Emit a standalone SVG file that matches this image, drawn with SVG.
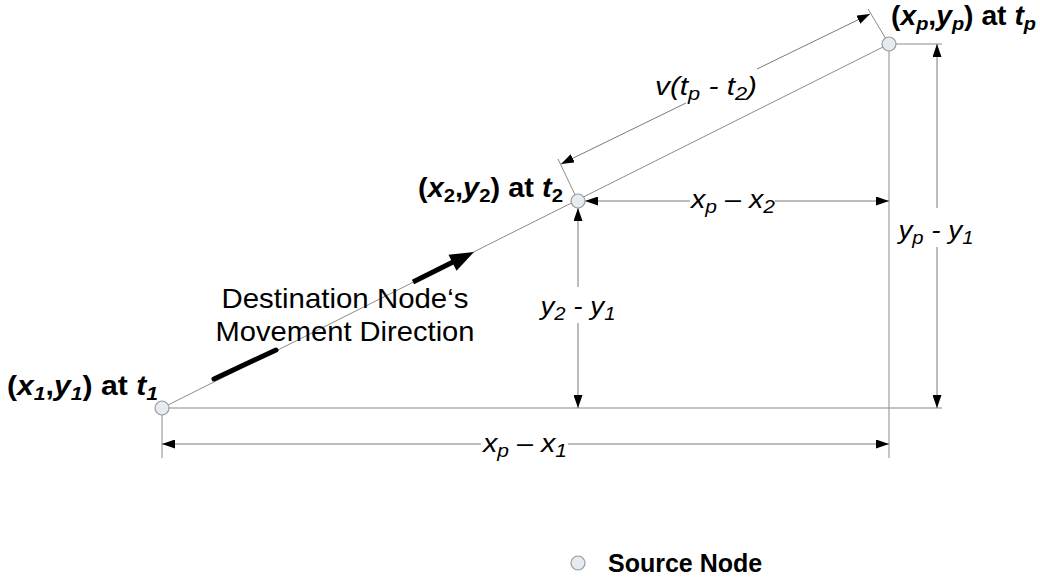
<svg xmlns="http://www.w3.org/2000/svg" width="1040" height="578" viewBox="0 0 1040 578">
<style>
.ln{stroke:#8c8c8c;stroke-width:1;fill:none}
.base{stroke:#c4c4c4;stroke-width:2;fill:none}
.dim{stroke:#7a7a7a;stroke-width:1;fill:none;marker-end:url(#ah)}
.node{fill:#e6ebf1;stroke:#9a9a9a;stroke-width:1.2}
.lb{font-family:"Liberation Sans",Arial,sans-serif;font-weight:bold;font-size:27px;fill:#000}
.dl{font-family:"Liberation Sans",Arial,sans-serif;font-style:italic;font-size:26px;fill:#000}
.tx{font-family:"Liberation Sans",Arial,sans-serif;font-size:28px;fill:#000}
.sn{font-family:"Liberation Sans",Arial,sans-serif;font-weight:bold;font-size:25px;fill:#000}
.it{font-style:italic}
.sb{font-size:19px}
</style>
<defs>
<marker id="ah" markerUnits="userSpaceOnUse" markerWidth="13" markerHeight="9" refX="13" refY="4.5" orient="auto">
<path d="M0,0 L13,4.5 L0,9 z" fill="#000"/>
</marker>
</defs>
<g id="connectors">
<line class="ln" x1="162" y1="408" x2="889" y2="44"/>
<line class="base" x1="162" y1="408" x2="942" y2="408"/>
<line class="ln" x1="889" y1="44" x2="942" y2="44"/>
<line class="ln" x1="889" y1="44" x2="889" y2="458"/>
<line class="ln" x1="162" y1="408" x2="162" y2="458"/>
<line class="ln" x1="578" y1="201" x2="558" y2="159"/>
<line class="ln" x1="889" y1="44" x2="868" y2="9"/>
<line class="dim" x1="686" y1="103" x2="561" y2="164"/>
<line class="dim" x1="757" y1="69" x2="870" y2="14"/>
<line class="dim" x1="690" y1="201" x2="585" y2="201"/>
<line class="dim" x1="775" y1="201" x2="889" y2="201"/>
<line class="dim" x1="578" y1="287" x2="578" y2="208"/>
<line class="dim" x1="578" y1="323" x2="578" y2="408"/>
<line class="dim" x1="937" y1="208" x2="937" y2="44"/>
<line class="dim" x1="937" y1="247" x2="937" y2="408"/>
<line class="dim" x1="481" y1="444" x2="162" y2="444"/>
<line class="dim" x1="568" y1="444" x2="889" y2="444"/>
</g>
<g id="movement-arrow">
<line x1="214" y1="379" x2="276" y2="350" stroke="#000" stroke-width="5" stroke-linecap="round"/>
<line x1="413" y1="282" x2="455" y2="261" stroke="#000" stroke-width="5"/>
<polygon points="474,252 456.5,270.8 448.5,254.7" fill="#000"/>
</g>
<g id="node-1"><circle class="node" cx="162" cy="408" r="7"/>
<text class="lb" x="158" y="395" text-anchor="end" textLength="151" lengthAdjust="spacingAndGlyphs">(<tspan class="it">x</tspan><tspan class="it sb" dy="5">1</tspan><tspan dy="-5">,</tspan><tspan class="it">y</tspan><tspan class="it sb" dy="5">1</tspan><tspan dy="-5">) at </tspan><tspan class="it">t</tspan><tspan class="it sb" dy="5">1</tspan></text></g>
<g id="node-2"><circle class="node" cx="578" cy="201" r="7"/>
<text class="lb" x="563" y="197" text-anchor="end" textLength="145" lengthAdjust="spacingAndGlyphs">(<tspan class="it">x</tspan><tspan class="sb" dy="5">2</tspan><tspan dy="-5">,</tspan><tspan class="it">y</tspan><tspan class="sb" dy="5">2</tspan><tspan dy="-5">) at </tspan><tspan class="it">t</tspan><tspan class="sb" dy="5">2</tspan></text></g>
<g id="node-p"><circle class="node" cx="889" cy="44" r="7"/>
<text class="lb" x="891" y="25" textLength="145" lengthAdjust="spacingAndGlyphs">(<tspan class="it">x</tspan><tspan class="it sb" dy="5">p</tspan><tspan dy="-5">,</tspan><tspan class="it">y</tspan><tspan class="it sb" dy="5">p</tspan><tspan dy="-5">) at </tspan><tspan class="it">t</tspan><tspan class="it sb" dy="5">p</tspan></text></g>
<g id="labels">
<text class="tx" x="345" y="308" text-anchor="middle" textLength="247" lengthAdjust="spacingAndGlyphs">Destination Node‘s</text>
<text class="tx" x="345" y="341" text-anchor="middle" textLength="259" lengthAdjust="spacingAndGlyphs">Movement Direction</text>
<text class="dl" x="706" y="95" text-anchor="middle" textLength="102" lengthAdjust="spacingAndGlyphs">v(t<tspan class="sb" dy="5">p</tspan><tspan dy="-5"> - t</tspan><tspan class="sb" dy="5">2</tspan><tspan dy="-5">)</tspan></text>
<text class="dl" x="733" y="208" text-anchor="middle" textLength="84" lengthAdjust="spacingAndGlyphs">x<tspan class="sb" dy="5">p</tspan><tspan dy="-5"> – x</tspan><tspan class="sb" dy="5">2</tspan></text>
<text class="dl" x="936" y="239" text-anchor="middle" textLength="75" lengthAdjust="spacingAndGlyphs">y<tspan class="sb" dy="5">p</tspan><tspan dy="-5"> - y</tspan><tspan class="sb" dy="5">1</tspan></text>
<text class="dl" x="578" y="315" text-anchor="middle" textLength="75" lengthAdjust="spacingAndGlyphs">y<tspan class="sb" dy="5">2</tspan><tspan dy="-5"> - y</tspan><tspan class="sb" dy="5">1</tspan></text>
<text class="dl" x="525" y="452" text-anchor="middle" textLength="84" lengthAdjust="spacingAndGlyphs">x<tspan class="sb" dy="5">p</tspan><tspan dy="-5"> – x</tspan><tspan class="sb" dy="5">1</tspan></text>
</g>
<g id="legend"><circle class="node" cx="578" cy="563" r="7"/>
<text class="sn" x="608" y="572">Source Node</text></g>
</svg>
